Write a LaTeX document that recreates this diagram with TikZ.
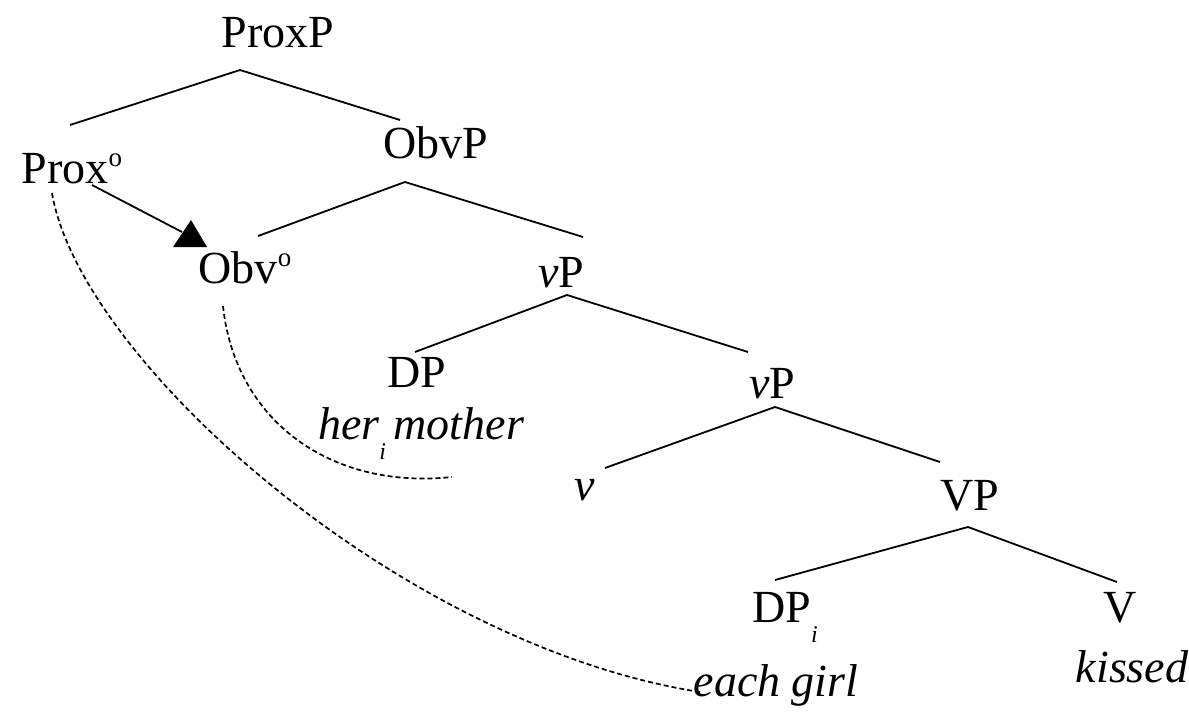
\documentclass[tikz,border=0pt]{standalone}
\usepackage{fontspec}
\setmainfont{Liberation Serif}
\newcommand{\supo}{\raisebox{17pt}{\fontsize{27}{27}\selectfont o}}
\newcommand{\subi}{\raisebox{-0.45em}{\fontsize{24}{24}\selectfont\itshape i}}
\begin{document}
\begin{tikzpicture}[x=1pt,y=-1pt,
  lab/.style={font=\fontsize{46}{50}\selectfont, inner sep=0pt, anchor=base},
  branch/.style={line width=1.8pt},
  chain/.style={line width=1.7pt, dash pattern=on 5pt off 3pt},
  arrowline/.style={line width=1.8pt}]
\useasboundingbox (0,0) rectangle (1189,712);
% labels
\node[lab] (proxP) at (278,47) {ProxP};
\node[lab] (prox) at (72,183) {Prox\supo};
\node[lab] (obvP) at (436,158) {ObvP};
\node[lab] (obv) at (245,283) {Obv\supo};
\node[lab] (vP1) at (561,287) {\textit{v}P};
\node[lab] (dp1) at (417,387) {DP};
\node[lab] (hm) at (421,439) {\itshape her\subi\,mother};
\node[lab] (vP2) at (772,398) {\textit{v}P};
\node[lab] (v) at (585,500) {\textit{v}};
\node[lab] (VP) at (970,510) {VP};
\node[lab] (dp2) at (785,622) {DP\subi};
\node[lab] (eg) at (776,696) {\itshape each girl};
\node[lab] (V) at (1120,622) {V};
\node[lab] (ks) at (1132,682) {\itshape kissed};
% branch points
\coordinate (a1) at (240,70);
\coordinate (a1l) at (70,125);
\coordinate (a1r) at (400,120);
\coordinate (a2) at (405,182);
\coordinate (a2l) at (258,236);
\coordinate (a2r) at (583,237);
\coordinate (a3) at (567,295);
\coordinate (a3l) at (415,352);
\coordinate (a3r) at (748,352);
\coordinate (a4) at (775,407);
\coordinate (a4l) at (605,468);
\coordinate (a4r) at (940,462);
\coordinate (a5) at (968,527);
\coordinate (a5l) at (775,580);
\coordinate (a5r) at (1117,582);
\draw[branch] (a1l) -- (a1) -- (a1r);
\draw[branch] (a2l) -- (a2) -- (a2r);
\draw[branch] (a3l) -- (a3) -- (a3r);
\draw[branch] (a4l) -- (a4) -- (a4r);
\draw[branch] (a5l) -- (a5) -- (a5r);
% movement arrow
\coordinate (arS) at (92,185);
\coordinate (arE) at (182,232);
\draw[arrowline] (arS) -- (arE);
\fill (191,220) -- (207,247) -- (173,247) -- cycle;
% dashed chains
\coordinate (c1s) at (52,193);
\coordinate (c1e) at (700,692);
\coordinate (c2s) at (223,306);
\coordinate (c2e) at (452,477);
\draw[chain] (c1s) .. controls (80,360) and (400,645) .. (c1e);
\draw[chain] (c2s) .. controls (235,420) and (330,490) .. (c2e);
\end{tikzpicture}
\end{document}
